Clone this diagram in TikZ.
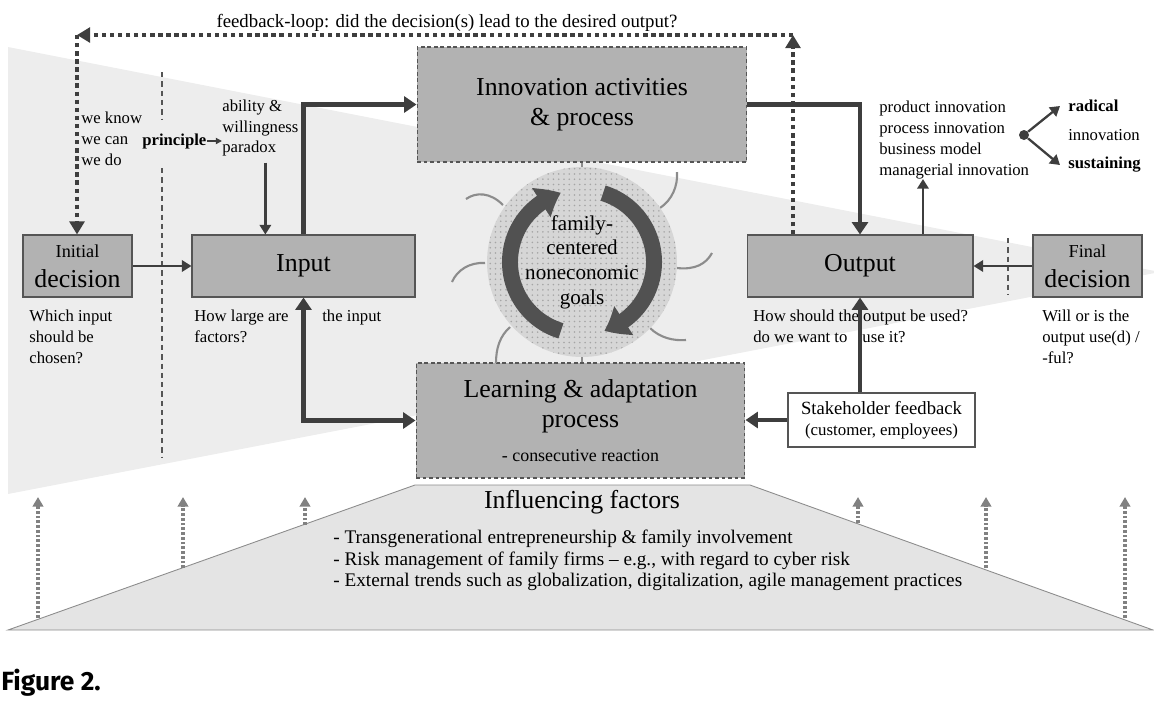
\documentclass[tikz,border=0pt]{standalone}
\usepackage{fontspec}
\setmainfont{Liberation Serif}
\newfontfamily\captionfont{Fira Sans}
\usetikzlibrary{arrows.meta, bending, positioning, patterns, calc}

\definecolor{boxgray}{RGB}{178,178,178}
\definecolor{funnelgray}{RGB}{237,237,237}
\definecolor{basegray}{RGB}{228,228,228}
\definecolor{inkgray}{RGB}{62,62,62}
\definecolor{edgegray}{RGB}{85,85,85}
\definecolor{softgray}{RGB}{140,140,140}
\definecolor{circlegray}{RGB}{214,214,214}
\definecolor{dotgray}{RGB}{165,165,165}

\newcommand{\smalltxt}{\fontsize{9.5}{11.8}\selectfont}
\newcommand{\bigtxt}{\fontsize{14.7}{17}\selectfont}

\tikzstyle{stagebox} = [rectangle, minimum height=1.24cm, text centered, draw=edgegray, line width=0.6pt, fill=boxgray, font=\bigtxt]
\tikzstyle{decisionbox} = [stagebox, minimum width=2.18cm, align=center, inner sep=1pt]
\tikzstyle{processbox} = [rectangle, minimum width=6.6cm, minimum height=2.3cm, align=center, draw=edgegray, line width=0.6pt, dash pattern=on 2.2pt off 1.5pt, fill=boxgray, font=\bigtxt]
\tikzstyle{feedbackbox} = [rectangle, minimum width=3.74cm, minimum height=1.08cm, align=center, draw=edgegray, line width=0.7pt, fill=white, inner sep=1pt]
\tikzstyle{goalcircle} = [circle, minimum size=3.8cm, fill=circlegray, postaction={pattern=dots, pattern color=dotgray}, align=center, font=\fontsize{12}{14}\selectfont]
\tikzstyle{smalltext} = [align=left, inner sep=0pt, font=\smalltxt]
\tikzstyle{connector} = [draw, inkgray, line width=2.8pt, >={Triangle[length=7pt, width=9pt]}, ->]
\tikzstyle{thinconnector} = [draw, inkgray, line width=1.3pt, >={Triangle[length=5.5pt, width=6.5pt]}, ->]
\tikzstyle{feedbackline} = [draw, inkgray, line width=2.6pt, dash pattern=on 2.5pt off 2.1pt, >={Triangle[length=7.5pt, width=8.5pt]}, ->]
\tikzstyle{influence} = [draw, softgray!110, line width=2pt, dash pattern=on 1.5pt off 1.2pt, >={Triangle[length=5.5pt, width=6pt]}, ->]
\tikzstyle{divider} = [draw, edgegray, line width=0.7pt, dash pattern=on 3pt off 2.3pt]
\tikzstyle{tentacle} = [draw, softgray, line width=1.2pt]
\tikzstyle{cyclearrow} = [draw, inkgray!90, line width=0.32cm, >={Triangle[length=0.44cm, width=0.66cm, bend]}, ->]

\begin{document}
\begin{tikzpicture}[x=0.02cm, y=-0.02cm]
    \useasboundingbox (0,0) rectangle (1154,701);

    % Background
    \fill [funnelgray] (8,47) -- (1160,272) -- (8,494) -- cycle;
    \path [draw=softgray, line width=0.5pt, fill=basegray] (8,630) -- (415,485) -- (750,485) -- (1153,630) -- cycle;
    \foreach \x/\y in {38/618, 183/568, 305/525, 858/523, 986/568, 1125/618}
        \path [influence] (\x,\y) -- (\x,497);
    \path [divider] (162,72) -- (162,120);
    \path [divider] (162,168) -- (162,458);
    \path [divider] (1008,238) -- (1008,294);

    % Nodes
    \node [decisionbox] (initial) at (77.5,266) {{\fontsize{10.4}{12}\selectfont Initial}\\decision};
    \node [stagebox, minimum width=4.46cm] (input) at (303.5,266) {Input};
    \node [processbox] (innovation) at (582,104.5) {Innovation activities\\\& process};
    \node [stagebox, minimum width=4.52cm] (output) at (860,266) {Output};
    \node [decisionbox] (final) at (1087.5,266) {{\fontsize{10.4}{12}\selectfont Final}\\decision};
    \node [processbox, minimum width=6.58cm] (learning) at (580.5,420.5) {Learning \& adaptation\\process\\[2pt]{\fontsize{10.2}{12}\selectfont - consecutive reaction}};
    \node [feedbackbox] (stake) at (881.5,420) {{\fontsize{10.6}{12}\selectfont Stakeholder feedback}\\{\fontsize{9.6}{11}\selectfont (customer, employees)}};

    % Goals
    \path [tentacle] (503,205) .. controls (490,192) and (476,192) .. (466,199);
    \path [tentacle] (485,263) .. controls (470,262) and (457,270) .. (452,282);
    \path [tentacle] (510,327) .. controls (500,336) and (496,348) .. (496,363);
    \path [tentacle] (660,208) .. controls (672,200) and (678,186) .. (677,172);
    \path [tentacle] (677,268) .. controls (695,270) and (706,264) .. (712,253);
    \path [tentacle] (650,328) .. controls (660,338) and (674,341) .. (686,340);
    \node [goalcircle] (goals) at (582,262) {family-\\centered\\noneconomic\\goals};
    \path [tentacle] (goals.north) -- (goals.north |- innovation.south);
    \path [tentacle] (goals.south) -- (goals.south |- learning.north);
    \path [cyclearrow] ($(goals.center)+(107:72)$) arc[start angle=107, end angle=253, radius=72];
    \path [cyclearrow] ($(goals.center)+(-73:72)$) arc[start angle=-73, end angle=72, radius=72];

    % Notes
    \node [font=\fontsize{10.7}{12}\selectfont, anchor=base] (fbtext) at (447,27) {feedback-loop: did the decision(s) lead to the desired output?};
    \node [smalltext, anchor=west] (knowdo) at (81,139) {we know\\we can\\we do};
    \node [smalltext, font=\smalltxt\bfseries, anchor=west] (principle) at (142,141) {principle};
    \node [smalltext, anchor=west] (ability) at (222,128) {ability \&\\willingness\\paradox};
    \node [smalltext, anchor=north west] (whichq) at (29,310) {Which input\\should be\\chosen?};
    \node [smalltext, anchor=north west] (sizeq) at (194,310) {How large are\\factors?};
    \node [smalltext, anchor=north west] (theinput) at (322,310) {the input};
    \node [smalltext, anchor=north west] (useq) at (753,310) {How should the output be used?\\do we want to\hspace{0.9em}use it?};
    \node [smalltext, anchor=north west] (finalq) at (1042,310) {Will or is the\\output use(d) /\\-ful?};
    \node [smalltext, anchor=west] (products) at (879,140) {product innovation\\process innovation\\business model\\managerial innovation};
    \node [circle, fill=inkgray, inner sep=0pt, minimum size=0.2cm] (split) at (1024,135) {};
    \node [smalltext, font=\smalltxt\bfseries, anchor=west] (radical) at (1068,106) {radical};
    \node [smalltext, anchor=west] (innovtype) at (1068,135) {innovation};
    \node [smalltext, font=\smalltxt\bfseries, anchor=west] (sustaining) at (1068,165) {sustaining};
    \node [font=\bigtxt] (influencetitle) at (582,502) {Influencing factors};
    \node [smalltext, font=\fontsize{10.95}{12.2}\selectfont, anchor=north west] (factors) at (333,530) {- Transgenerational entrepreneurship \& family involvement\\- Risk management of family firms -- e.g., with regard to cyber risk\\- External trends such as globalization, digitalization, agile management practices};
    \node [font=\captionfont\bfseries\fontsize{15}{18}\selectfont, anchor=base west, inner sep=0pt] (caption) at (1,690) {Figure 2.};

    % Arrows
    \coordinate (fbright) at (793,35);
    \coordinate (fbleft) at (77,35);
    \path [feedbackline] (output.north -| fbright) -- (fbright);
    \path [feedbackline] (fbright) -- (fbleft);
    \path [feedbackline] (fbleft) -- (initial.north -| fbleft);
    \path [thinconnector] (initial.east) -- (input.west);
    \path [thinconnector] (final.west) -- (output.east);
    \path [thinconnector, line width=0.8pt, >={Triangle[length=3.5pt, width=3.5pt]}] (principle.east) -- (principle.east -| ability.west);
    \path [thinconnector] ([xshift=0.1cm, yshift=-0.12cm]ability.south) -- ([xshift=0.1cm]ability.south |- input.north);
    \path [connector] (input.north) -- (input.north |- innovation.west) -- (innovation.west);
    \path [connector] (innovation.east) -| (output.north);
    \path [connector, <->] (input.south) |- (learning.west);
    \path [connector] (stake.west) -- (stake.west -| learning.east);
    \path [connector] (output.south |- stake.north) -- (output.south);
    \path [thinconnector] ([xshift=1.26cm]output.north) -- ([xshift=1.26cm]output.north |- products.south);
    \path [thinconnector] (split) -- ([xshift=-0.16cm]radical.west);
    \path [thinconnector] (split) -- ([xshift=-0.16cm]sustaining.west);
\end{tikzpicture}
\end{document}
